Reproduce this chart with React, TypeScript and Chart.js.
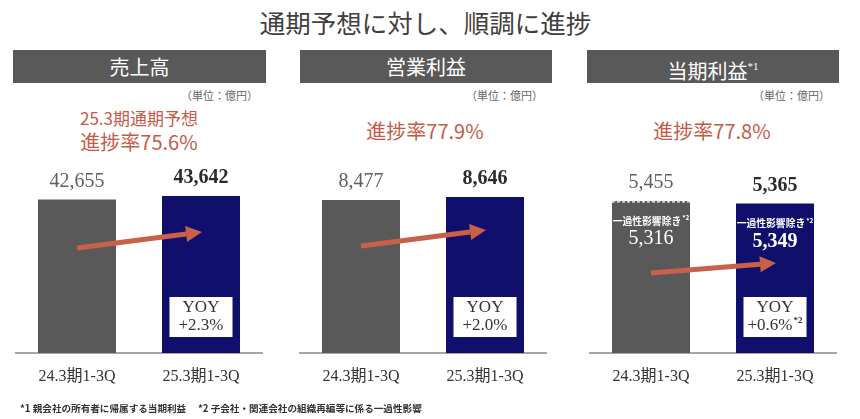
import { useEffect, useRef } from "react";
import { Chart, registerables } from "chart.js";

Chart.register(...registerables);

// ---- data ----
const categories = ["24.3期1-3Q", "25.3期1-3Q"];
const panelTitles = ["売上高", "営業利益", "当期利益"];
const salesValues = [42655, 43642];
const operatingProfitValues = [8477, 8646];
const netProfitValues = [5455, 5365];
const netProfitExOneTime = [5316, 5349];
const yoyLabels = ["+2.3%", "+2.0%", "+0.6%"];
const progressLabels = ["進捗率75.6%", "進捗率77.9%", "進捗率77.8%"];
const forecastLabel = "25.3期通期予想";
const unitLabel = "（単位：億円）";
const oneTimeLabel = "一過性影響除き";
const titleText = "通期予想に対し、順調に進捗";
const footnoteText = "*1 親会社の所有者に帰属する当期利益　 *2 子会社・関連会社の組織再編等に係る一過性影響";

// ---- style ----
const GREY = "#595959";
const NAVY = "#10106c";
const RED = "#c55a48";
const ARROW = "#c8604a";
const SERIF = "'Liberation Serif', 'Noto Sans CJK JP', serif";
const SANS = "'Noto Sans CJK JP', 'Noto Sans', sans-serif";

type PanelCfg = {
  values: number[];
  inner?: number[];
  yoy: string;
  yoyNote?: boolean;
  max: number;
  left: number;
  arrow: [number, number];
};

const panelCfgs: PanelCfg[] = [
  { values: salesValues, yoy: yoyLabels[0], max: 56400, left: 15, arrow: [105, 121] },
  { values: operatingProfitValues, yoy: yoyLabels[1], max: 11250, left: 299, arrow: [107, 123] },
  { values: netProfitValues, inner: netProfitExOneTime, yoy: yoyLabels[2], yoyNote: true, max: 7280, left: 589, arrow: [80, 90] },
];

const fmt = (v: number) => v.toLocaleString("en-US");

function drawArrow(ctx: CanvasRenderingContext2D, x0: number, y0: number, x1: number, y1: number) {
  const ang = Math.atan2(y1 - y0, x1 - x0);
  const headLen = 16;
  const headW = 8;
  const bx = x1 - headLen * Math.cos(ang);
  const by = y1 - headLen * Math.sin(ang);
  ctx.save();
  ctx.strokeStyle = ARROW;
  ctx.fillStyle = ARROW;
  ctx.lineWidth = 5;
  ctx.lineCap = "butt";
  ctx.beginPath();
  ctx.moveTo(x0, y0);
  ctx.lineTo(bx, by);
  ctx.stroke();
  ctx.beginPath();
  ctx.moveTo(x1, y1);
  ctx.lineTo(bx + headW * Math.sin(ang), by - headW * Math.cos(ang));
  ctx.lineTo(bx - headW * Math.sin(ang), by + headW * Math.cos(ang));
  ctx.closePath();
  ctx.fill();
  ctx.restore();
}

function textWithSup(ctx: CanvasRenderingContext2D, main: string, sup: string, x: number, y: number, mainFont: string, supFont: string, supRise: number) {
  ctx.font = mainFont;
  const wm = ctx.measureText(main).width;
  ctx.font = supFont;
  const ws = ctx.measureText(sup).width;
  const start = x - (wm + ws + 1) / 2;
  ctx.textAlign = "left";
  ctx.font = mainFont;
  ctx.fillText(main, start, y);
  ctx.font = supFont;
  ctx.fillText(sup, start + wm + 1, y - supRise);
}

function makePlugin(cfg: PanelCfg) {
  return {
    id: "panelDecor",
    afterDatasetsDraw(chart: any) {
      const ctx: CanvasRenderingContext2D = chart.ctx;
      const bars = chart.getDatasetMeta(0).data as any[];
      const base = chart.chartArea.bottom;
      ctx.save();
      ctx.textBaseline = "middle";
      ctx.textAlign = "center";
      // value labels above bars
      bars.forEach((bar, i) => {
        ctx.font = i === 1 ? `bold 20px ${SERIF}` : `20px ${SERIF}`;
        ctx.fillStyle = i === 1 ? "#2b2b2b" : "#5f5f5f";
        ctx.fillText(fmt(cfg.values[i]), bar.x, bar.y - 18);
      });
      // dashed top and inner labels
      if (cfg.inner) {
        const b0 = bars[0];
        ctx.save();
        ctx.strokeStyle = "#ffffff";
        ctx.lineWidth = 1.2;
        ctx.setLineDash([3, 2]);
        ctx.beginPath();
        ctx.moveTo(b0.x - b0.width / 2, b0.y + 1);
        ctx.lineTo(b0.x + b0.width / 2, b0.y + 1);
        ctx.stroke();
        ctx.restore();
        bars.forEach((bar, i) => {
          ctx.fillStyle = "#ffffff";
          textWithSup(ctx, oneTimeLabel, "*2", bar.x, bar.y + 20, `bold 9.8px ${SANS}`, `bold 6.5px ${SANS}`, 3);
          ctx.textAlign = "center";
          ctx.font = i === 1 ? `bold 20px ${SERIF}` : `20px ${SERIF}`;
          ctx.fillText(fmt(cfg.inner![i]), bar.x, bar.y + 38);
        });
      }
      // arrow
      drawArrow(ctx, bars[0].x, base - cfg.arrow[0], bars[1].x + 1, base - cfg.arrow[1]);
      // YOY box
      const b1 = bars[1];
      const bw = 63;
      const bh = 40;
      const top = base - 56;
      ctx.fillStyle = "#ffffff";
      ctx.fillRect(b1.x - bw / 2, top, bw, bh);
      ctx.fillStyle = "#333333";
      ctx.textAlign = "center";
      ctx.font = `17px ${SERIF}`;
      ctx.fillText("YOY", b1.x, top + 11);
      if (cfg.yoyNote) {
        textWithSup(ctx, cfg.yoy, "*2", b1.x, top + 29, `17px ${SERIF}`, `bold 9px ${SERIF}`, 5);
      } else {
        ctx.fillText(cfg.yoy, b1.x, top + 29);
      }
      ctx.restore();
    },
  };
}

function Panel({ cfg }: { cfg: PanelCfg }) {
  const ref = useRef<HTMLCanvasElement | null>(null);
  useEffect(() => {
    if (!ref.current) return;
    const chart = new Chart(ref.current, {
      type: "bar",
      data: {
        labels: categories,
        datasets: [
          {
            data: cfg.values,
            backgroundColor: [GREY, NAVY],
            barPercentage: 0.629,
            categoryPercentage: 1,
          },
        ],
      },
      options: {
        animation: false,
        responsive: false,
        events: [],
        layout: { padding: { top: 0, bottom: 0, left: 0, right: 0 } },
        plugins: { legend: { display: false }, tooltip: { enabled: false } },
        scales: {
          x: {
            grid: { display: false, drawTicks: false },
            border: { display: true, color: "#a6a6a6", width: 2 },
            ticks: {
              color: "#333333",
              font: { family: SERIF, size: 16 },
              padding: 14.4,
              maxRotation: 0,
              autoSkip: false,
            },
          },
          y: { display: false, min: 0, max: cfg.max },
        },
      },
      plugins: [makePlugin(cfg)],
    } as any);
    return () => chart.destroy();
  }, [cfg]);
  return (
    <canvas
      ref={ref}
      width={248}
      height={251}
      style={{ position: "absolute", left: cfg.left, top: 150, width: 248, height: 251 }}
    />
  );
}

const headerBoxes = [
  { left: 13, width: 253 },
  { left: 300, width: 252 },
  { left: 587, width: 252 },
];
const unitRights = [258, 543, 830];
const progressCenters = [139, 425, 712];

export default function App() {
  const abs = (s: React.CSSProperties): React.CSSProperties => ({ position: "absolute", ...s });
  return (
    <div style={{ position: "relative", width: 860, height: 419, background: "#fff", overflow: "hidden", fontFamily: SANS }}>
      <style>{"body{margin:0}"}</style>
      <div style={abs({ left: 0, width: 851, top: 5, textAlign: "center", fontSize: 25.5, color: "#404040", lineHeight: "34px" })}>
        {titleText}
      </div>
      {headerBoxes.map((h, i) => (
        <div
          key={i}
          style={abs({ left: h.left, top: 50, width: h.width, height: 33, background: GREY, color: "#fff", fontSize: 20, lineHeight: "33px", textAlign: "center" })}
        >
          {panelTitles[i]}
          {i === 2 && <span style={{ fontSize: 11, verticalAlign: 9, fontFamily: SERIF }}>*1</span>}
        </div>
      ))}
      {unitRights.map((r, i) => (
        <div key={i} style={abs({ left: r - 200, width: 200, top: 87, textAlign: "right", fontSize: 11, color: "#666", lineHeight: "16px" })}>
          {unitLabel}
        </div>
      ))}
      <div style={abs({ left: progressCenters[0] - 100, width: 200, top: 106, textAlign: "center", fontSize: 17, color: RED, lineHeight: "24px" })}>
        {forecastLabel}
      </div>
      {progressCenters.map((c, i) => (
        <div
          key={i}
          style={abs({ left: c - 100, width: 200, top: i === 0 ? 128 : 117, textAlign: "center", fontSize: 20, color: RED, lineHeight: "28px" })}
        >
          {progressLabels[i]}
        </div>
      ))}
      {panelCfgs.map((cfg, i) => (
        <Panel key={i} cfg={cfg} />
      ))}
      <div style={abs({ left: 20, top: 400, fontSize: 9.6, fontWeight: "bold", color: "#333", lineHeight: "16px", whiteSpace: "pre" })}>
        {footnoteText}
      </div>
    </div>
  );
}
